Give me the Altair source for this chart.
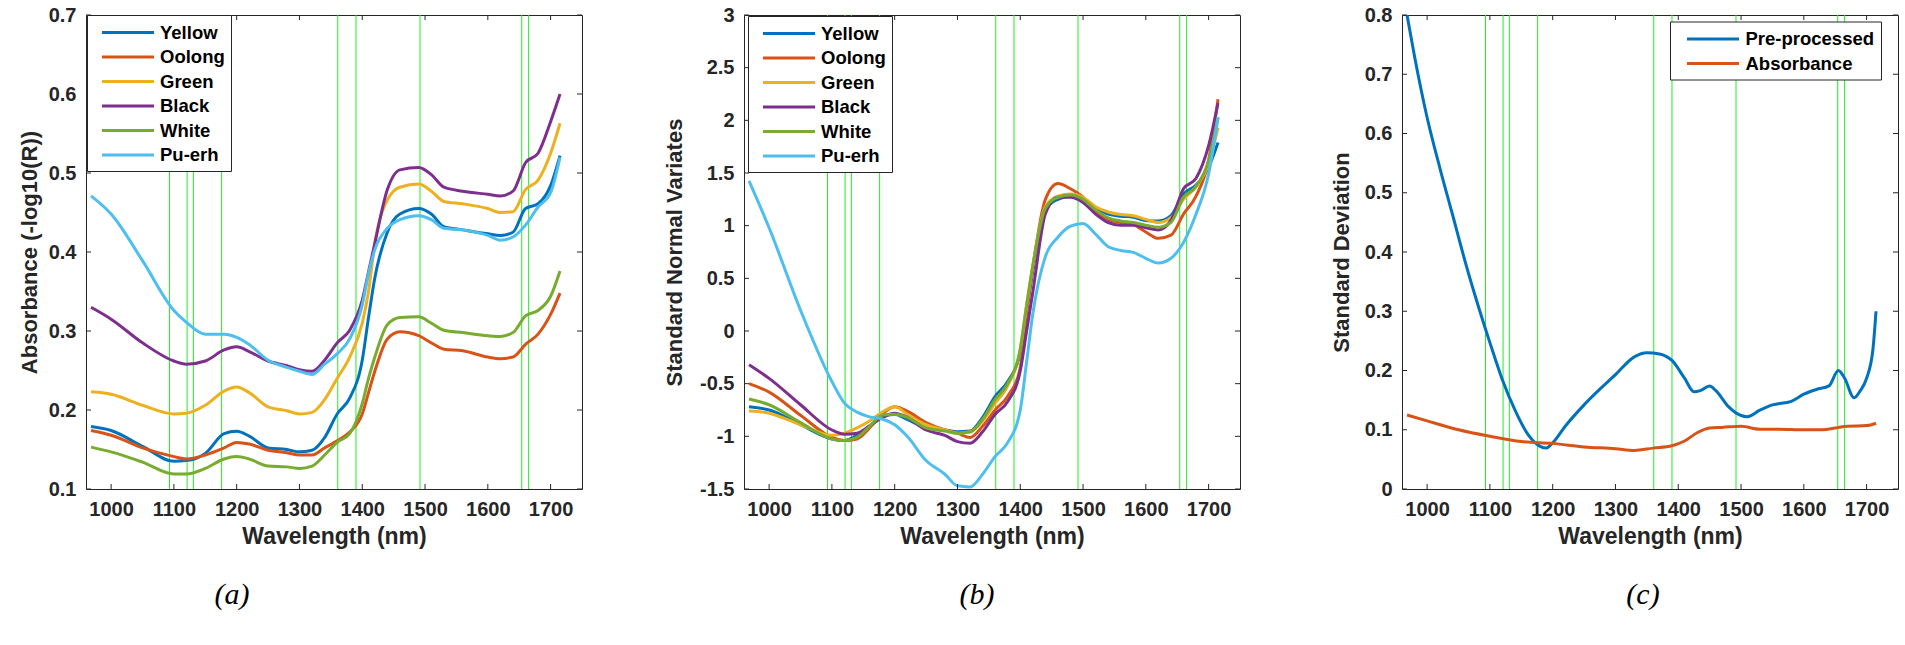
import altair as alt
import pandas as pd

# ---------------- data ----------------
teas = ["Yellow", "Oolong", "Green", "Black", "White", "Pu-erh"]
tea_colors = ["#0072BD", "#D95319", "#EDB120", "#7E2F8E", "#77AC30", "#4DBEEE"]
marker_wavelengths = [1093, 1121, 1131, 1176, 1361, 1390, 1492, 1654, 1665]
x_ticks = [1000, 1100, 1200, 1300, 1400, 1500, 1600, 1700]

# (a) absorbance
wl_a = [968, 1000, 1050, 1100, 1120, 1150, 1180, 1200, 1220, 1250, 1280, 1300, 1320, 1340,
        1360, 1380, 1400, 1410, 1420, 1440, 1460, 1490, 1510, 1530, 1560, 1600, 1620, 1640,
        1660, 1680, 1700, 1715]
abs_yellow = [0.179, 0.174, 0.154, 0.135, 0.136, 0.145, 0.170, 0.173, 0.167, 0.152, 0.150, 0.147,
              0.149, 0.165, 0.195, 0.215, 0.263, 0.317, 0.367, 0.425, 0.448, 0.455, 0.448, 0.432,
              0.428, 0.423, 0.421, 0.425, 0.455, 0.461, 0.484, 0.522]
abs_oolong = [0.174, 0.168, 0.152, 0.141, 0.138, 0.143, 0.152, 0.159, 0.157, 0.149, 0.146, 0.143,
              0.143, 0.152, 0.161, 0.172, 0.195, 0.222, 0.249, 0.290, 0.299, 0.294, 0.285, 0.277,
              0.275, 0.267, 0.265, 0.267, 0.283, 0.296, 0.321, 0.348]
abs_green = [0.223, 0.220, 0.206, 0.195, 0.196, 0.206, 0.224, 0.229, 0.222, 0.204, 0.199, 0.195,
             0.197, 0.213, 0.240, 0.267, 0.310, 0.350, 0.411, 0.466, 0.482, 0.486, 0.477, 0.464,
             0.461, 0.455, 0.450, 0.451, 0.479, 0.491, 0.525, 0.563]
abs_black = [0.330, 0.315, 0.285, 0.262, 0.258, 0.262, 0.276, 0.280, 0.274, 0.262, 0.256, 0.251,
             0.249, 0.263, 0.285, 0.301, 0.339, 0.375, 0.411, 0.479, 0.504, 0.507, 0.498, 0.482,
             0.477, 0.473, 0.471, 0.477, 0.513, 0.525, 0.565, 0.600]
abs_white = [0.153, 0.147, 0.134, 0.119, 0.119, 0.126, 0.138, 0.141, 0.138, 0.129, 0.128, 0.126,
             0.129, 0.143, 0.159, 0.170, 0.208, 0.240, 0.267, 0.308, 0.317, 0.318, 0.310, 0.301,
             0.298, 0.294, 0.293, 0.298, 0.319, 0.326, 0.344, 0.376]
abs_puerh = [0.471, 0.448, 0.389, 0.326, 0.311, 0.296, 0.296, 0.292, 0.283, 0.263, 0.254, 0.249,
             0.245, 0.258, 0.271, 0.290, 0.333, 0.373, 0.403, 0.430, 0.441, 0.446, 0.441, 0.430,
             0.428, 0.421, 0.415, 0.419, 0.434, 0.457, 0.475, 0.520]

# (b) standard normal variates
wl_b = [968, 1000, 1050, 1100, 1120, 1140, 1160, 1180, 1200, 1220, 1250, 1280, 1300, 1320, 1340,
        1360, 1380, 1400, 1410, 1420, 1440, 1460, 1480, 1500, 1520, 1540, 1560, 1580, 1600, 1620,
        1640, 1660, 1680, 1700, 1715]
snv_yellow = [-0.72, -0.75, -0.89, -1.025, -1.04, -0.99, -0.905, -0.82, -0.79, -0.84, -0.92, -0.94,
              -0.957, -0.95, -0.82, -0.62, -0.48, -0.20, 0.18, 0.57, 1.15, 1.25, 1.28, 1.25, 1.165,
              1.11, 1.09, 1.08, 1.05, 1.045, 1.095, 1.30, 1.385, 1.555, 1.79]
snv_oolong = [-0.50, -0.58, -0.80, -1.01, -1.04, -1.025, -0.92, -0.79, -0.72, -0.76, -0.87, -0.94,
              -0.97, -1.01, -0.905, -0.75, -0.62, -0.35, 0.16, 0.60, 1.25, 1.40, 1.35, 1.27, 1.13,
              1.06, 1.03, 1.01, 0.94, 0.88, 0.91, 1.11, 1.28, 1.62, 2.20]
snv_green = [-0.76, -0.78, -0.89, -0.99, -0.97, -0.92, -0.855, -0.77, -0.72, -0.79, -0.89, -0.94,
             -0.97, -0.957, -0.855, -0.685, -0.52, -0.17, 0.24, 0.62, 1.18, 1.28, 1.30, 1.27, 1.18,
             1.13, 1.105, 1.095, 1.06, 1.03, 1.075, 1.25, 1.37, 1.59, 1.93]
snv_black = [-0.32, -0.45, -0.70, -0.94, -0.98, -0.97, -0.90, -0.82, -0.78, -0.82, -0.94, -0.99,
             -1.05, -1.065, -0.957, -0.79, -0.67, -0.38, -0.006, 0.37, 1.11, 1.27, 1.27, 1.22, 1.11,
             1.03, 1.005, 1.005, 0.98, 0.96, 1.05, 1.35, 1.45, 1.76, 2.165]
snv_white = [-0.645, -0.70, -0.87, -1.025, -1.04, -1.01, -0.905, -0.80, -0.79, -0.82, -0.92, -0.95,
             -0.97, -0.96, -0.84, -0.65, -0.50, -0.17, 0.24, 0.62, 1.165, 1.27, 1.29, 1.25, 1.15,
             1.075, 1.045, 1.03, 1.005, 0.985, 1.03, 1.27, 1.37, 1.62, 2.03]
snv_puerh = [1.425, 0.98, 0.197, -0.48, -0.685, -0.77, -0.815, -0.835, -0.89, -1.00, -1.23, -1.36,
             -1.47, -1.48, -1.36, -1.19, -1.06, -0.75, -0.30, 0.163, 0.706, 0.89, 0.995, 1.02, 0.92,
             0.80, 0.765, 0.747, 0.69, 0.645, 0.69, 0.84, 1.11, 1.49, 2.03]

# (c) standard deviation
sd_names = ["Pre-processed", "Absorbance"]
sd_colors = ["#0072BD", "#D95319"]
wl_pre = [968, 980, 1000, 1020, 1040, 1060, 1080, 1100, 1120, 1140, 1160, 1180, 1190, 1200, 1220,
          1250, 1300, 1330, 1350, 1370, 1390, 1410, 1425, 1435, 1450, 1460, 1480, 1500, 1510, 1530,
          1550, 1580, 1600, 1620, 1640, 1655, 1665, 1680, 1690, 1700, 1710, 1715]
sd_pre = [0.800, 0.730, 0.627, 0.543, 0.465, 0.386, 0.314, 0.247, 0.184, 0.133, 0.093, 0.072, 0.069,
          0.078, 0.106, 0.142, 0.193, 0.223, 0.230, 0.228, 0.217, 0.187, 0.164, 0.166, 0.174, 0.166,
          0.139, 0.124, 0.122, 0.133, 0.142, 0.148, 0.160, 0.168, 0.174, 0.200, 0.187, 0.154, 0.166,
          0.187, 0.235, 0.300]
wl_abs = [968, 1000, 1050, 1100, 1150, 1200, 1250, 1300, 1330, 1360, 1390, 1410, 1430, 1450, 1470,
          1500, 1530, 1560, 1600, 1630, 1650, 1670, 1700, 1715]
sd_abs = [0.125, 0.115, 0.100, 0.089, 0.080, 0.077, 0.071, 0.068, 0.065, 0.069, 0.073, 0.081, 0.095,
          0.103, 0.104, 0.106, 0.101, 0.101, 0.100, 0.100, 0.103, 0.106, 0.107, 0.111]

y_ticks_a = [0.1, 0.2, 0.3, 0.4, 0.5, 0.6, 0.7]
y_ticks_b = [-1.5, -1, -0.5, 0, 0.5, 1, 1.5, 2, 2.5, 3]
y_ticks_c = [0, 0.1, 0.2, 0.3, 0.4, 0.5, 0.6, 0.7, 0.8]


def long_frame(pairs):
    rows = []
    for name, wl, vals in pairs:
        for w, v in zip(wl, vals):
            rows.append({"wl": w, "v": v, "s": name})
    return pd.DataFrame(rows)


df_a = long_frame([(n, wl_a, v) for n, v in zip(
    teas, [abs_yellow, abs_oolong, abs_green, abs_black, abs_white, abs_puerh])])
df_b = long_frame([(n, wl_b, v) for n, v in zip(
    teas, [snv_yellow, snv_oolong, snv_green, snv_black, snv_white, snv_puerh])])
df_c = long_frame([("Pre-processed", wl_pre, sd_pre), ("Absorbance", wl_abs, sd_abs)])

# ---------------- style ----------------
W, H = 496, 474
TICK = 5
AX = "#262626"


def make_legend(x, y, sym_off, lab_off, pad_spaces):
    return alt.Legend(
        title=None, orient="none", legendX=x, legendY=y,
        fillColor="white", strokeColor=AX, padding=6, cornerRadius=0,
        symbolType="M-2.6,0H2.6", symbolSize=400, symbolStrokeWidth=3,
        symbolOffset=sym_off, labelOffset=lab_off, rowPadding=3.5,
        labelFont="Liberation Sans", labelFontSize=18.5, labelFontWeight="bold",
        labelColor="black", labelExpr="datum.label + '" + " " * pad_spaces + "'",
    )


def panel(df, names, colors, ydomain, yticks, ytitle, ylabel_expr, ytitle_pad, legend,
          caption, cap_dx):
    xs = alt.Scale(domain=[960, 1750], nice=False, zero=False)
    ys = alt.Scale(domain=ydomain, nice=False, zero=False)
    X = alt.X("wl:Q", scale=xs, axis=alt.Axis(values=x_ticks, format="d", title="Wavelength (nm)",
                                              labelPadding=10, titlePadding=6))
    Y = alt.Y("v:Q", scale=ys, axis=alt.Axis(values=yticks, labelExpr=ylabel_expr, title=ytitle,
                                             labelPadding=10, titlePadding=ytitle_pad))

    markers = alt.Chart(pd.DataFrame({"wl": marker_wavelengths})).mark_rule(
        color="#22ee22", strokeWidth=1).encode(x=X)
    lines = alt.Chart(df).mark_line(strokeWidth=3, interpolate="monotone", clip=True).encode(
        x=X, y=Y,
        color=alt.Color("s:N", scale=alt.Scale(domain=names, range=colors), legend=legend),
    )
    xt = pd.DataFrame({"wl": x_ticks})
    yt = pd.DataFrame({"v": yticks})
    tb = alt.Chart(xt).mark_rule(color=AX).encode(x=X, y=alt.value(H), y2=alt.value(H - TICK))
    tt = alt.Chart(xt).mark_rule(color=AX).encode(x=X, y=alt.value(0), y2=alt.value(TICK))
    tl = alt.Chart(yt).mark_rule(color=AX).encode(y=Y, x=alt.value(0), x2=alt.value(TICK))
    tr = alt.Chart(yt).mark_rule(color=AX).encode(y=Y, x=alt.value(W), x2=alt.value(W - TICK))
    return alt.layer(markers, lines, tb, tt, tl, tr).properties(
        width=W, height=H,
        title=alt.TitleParams(text=caption, orient="bottom", anchor="start", frame="group",
                              dx=cap_dx, align="center", font="Liberation Serif",
                              fontStyle="italic", fontWeight="normal", fontSize=30,
                              color="black", offset=32),
    )


fmt1 = "format(datum.value, '.1f')"
fmt_g = "datum.value < 0 ? '-' + format(-datum.value, '~g') : format(datum.value, '~g')"

pa = panel(df_a, teas, tea_colors, [0.1, 0.7], y_ticks_a, "Absorbance (-log10(R))", fmt1, 7,
           make_legend(1, 0, 23.5, 20.5, 2), "(a)", 146)
pb = panel(df_b, teas, tea_colors, [-1.5, 3], y_ticks_b, "Standard Normal Variates", fmt_g, 13,
           make_legend(4, 1, 23.5, 20.5, 2), "(b)", 233)
pc = panel(df_c, sd_names, sd_colors, [0, 0.8], y_ticks_c, "Standard Deviation", fmt_g, 11,
           make_legend(268, 6.5, 25.5, 21, 3), "(c)", 241)

chart = alt.hconcat(pa, pb, pc, spacing=162, bounds="flush").resolve_scale(
    color="independent", y="independent"
).configure_view(stroke=AX, strokeWidth=1).configure_axis(
    labelFont="Liberation Sans", labelFontSize=20, labelFontWeight="bold", labelColor=AX,
    titleFont="Liberation Sans", titleFontWeight="bold", titleColor=AX,
    ticks=False, domain=False, grid=False,
).configure_axisX(titleFontSize=23).configure_axisY(titleFontSize=22).properties(
    padding={"left": 17, "top": 4, "right": 5, "bottom": 0}, background="white"
)

chart.save("out.html", embed_options={"renderer": "svg", "actions": False})
